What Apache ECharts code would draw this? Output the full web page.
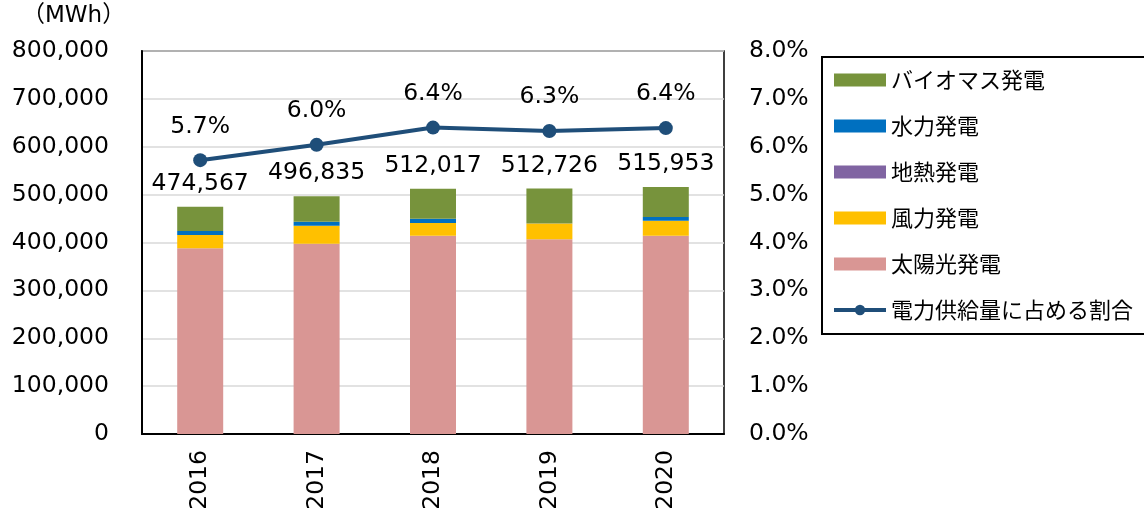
<!DOCTYPE html>
<html>
<head>
<meta charset="utf-8">
<script src="https://cdn.jsdelivr.net/npm/echarts@6/dist/echarts.min.js"></script>
<style>
  html, body { margin: 0; padding: 0; background: #fff; }
  #chart { width: 1144px; height: 513px; }
</style>
</head>
<body>
<div id="chart"></div>
<script>
// data
const years = ['2016', '2017', '2018', '2019', '2020'];
const solar = [388000, 397500, 414200, 406700, 414200];
const wind = [27700, 37600, 26500, 33400, 31400];
const geothermal = [0, 0, 0, 0, 0];
const hydro = [8300, 8300, 9000, 800, 7700];
const biomass = [50567, 53435, 62317, 71826, 62653];
const totals = [474567, 496835, 512017, 512726, 515953];
const share = [5.72, 6.04, 6.40, 6.33, 6.39];
const shareLabels = ['5.7%', '6.0%', '6.4%', '6.3%', '6.4%'];

const font = '"DejaVu Sans", "Noto Sans CJK JP", sans-serif';
const fs = 23.5;
const fmt = v => String(v).replace(/\B(?=(\d{3})+(?!\d))/g, ',');

const chart = echarts.init(document.getElementById('chart'));

const barSeries = (name, data, color) => ({
  name: name,
  type: 'bar',
  stack: 'total',
  barWidth: 46,
  data: data,
  itemStyle: { color: color }
});

const option = {
  backgroundColor: '#fff',
  animation: false,
  textStyle: { fontFamily: font },
  graphic: [{
    type: 'text',
    left: 22,
    top: 5,
    style: { text: '（MWh）', font: '23px ' + font, fill: '#000' }
  }],
  grid: {
    left: 142, top: 51, right: 420, bottom: 79,
    show: true, borderColor: '#000', borderWidth: 1.5
  },
  legend: {
    orient: 'vertical',
    left: 822, top: 57,
    padding: [12, 12, 13, 10],
    borderColor: '#000', borderWidth: 2,
    itemWidth: 52, itemHeight: 13, itemGap: 24,
    textStyle: { fontSize: 22, lineHeight: 22, color: '#000', fontFamily: '"Noto Sans CJK JP", sans-serif' },
    data: [
      { name: 'バイオマス発電', icon: 'rect' },
      { name: '水力発電', icon: 'rect' },
      { name: '地熱発電', icon: 'rect' },
      { name: '風力発電', icon: 'rect' },
      { name: '太陽光発電', icon: 'rect' },
      { name: '電力供給量に占める割合', lineStyle: { width: 4 } }
    ]
  },
  xAxis: {
    type: 'category',
    data: years,
    axisLine: { lineStyle: { color: '#000', width: 2 } },
    axisTick: { show: false },
    axisLabel: { rotate: 90, fontSize: fs, color: '#000', margin: 16 }
  },
  yAxis: [{
    type: 'value',
    min: 0, max: 800000, interval: 100000,
    axisLine: { show: true, lineStyle: { color: '#000', width: 2 } },
    axisTick: { show: false },
    splitLine: { lineStyle: { color: '#d9d9d9', width: 1.5 } },
    axisLabel: { fontSize: fs, color: '#000', margin: 33, formatter: fmt }
  }, {
    type: 'value',
    min: 0, max: 8, interval: 1,
    axisLine: { show: false },
    axisTick: { show: false },
    splitLine: { show: false },
    axisLabel: { fontSize: fs, color: '#000', margin: 25, formatter: v => v.toFixed(1) + '%' }
  }],
  series: [
    barSeries('太陽光発電', solar, '#d99694'),
    barSeries('風力発電', wind, '#ffc000'),
    barSeries('地熱発電', geothermal, '#8064a2'),
    barSeries('水力発電', hydro, '#0070c0'),
    Object.assign(barSeries('バイオマス発電', biomass, '#77933c'), {
      label: {
        show: true, position: 'top', distance: 11,
        fontSize: fs, color: '#000',
        formatter: p => fmt(totals[p.dataIndex])
      }
    }),
    {
      name: '電力供給量に占める割合',
      type: 'line',
      yAxisIndex: 1,
      data: share,
      symbol: 'circle',
      symbolSize: 14,
      lineStyle: { color: '#1f4e79', width: 4 },
      itemStyle: { color: '#1f4e79' },
      label: {
        show: true, position: 'top', distance: 15,
        fontSize: fs, color: '#000',
        formatter: p => shareLabels[p.dataIndex]
      },
      z: 5
    }
  ]
};

chart.setOption(option);
</script>
</body>
</html>
